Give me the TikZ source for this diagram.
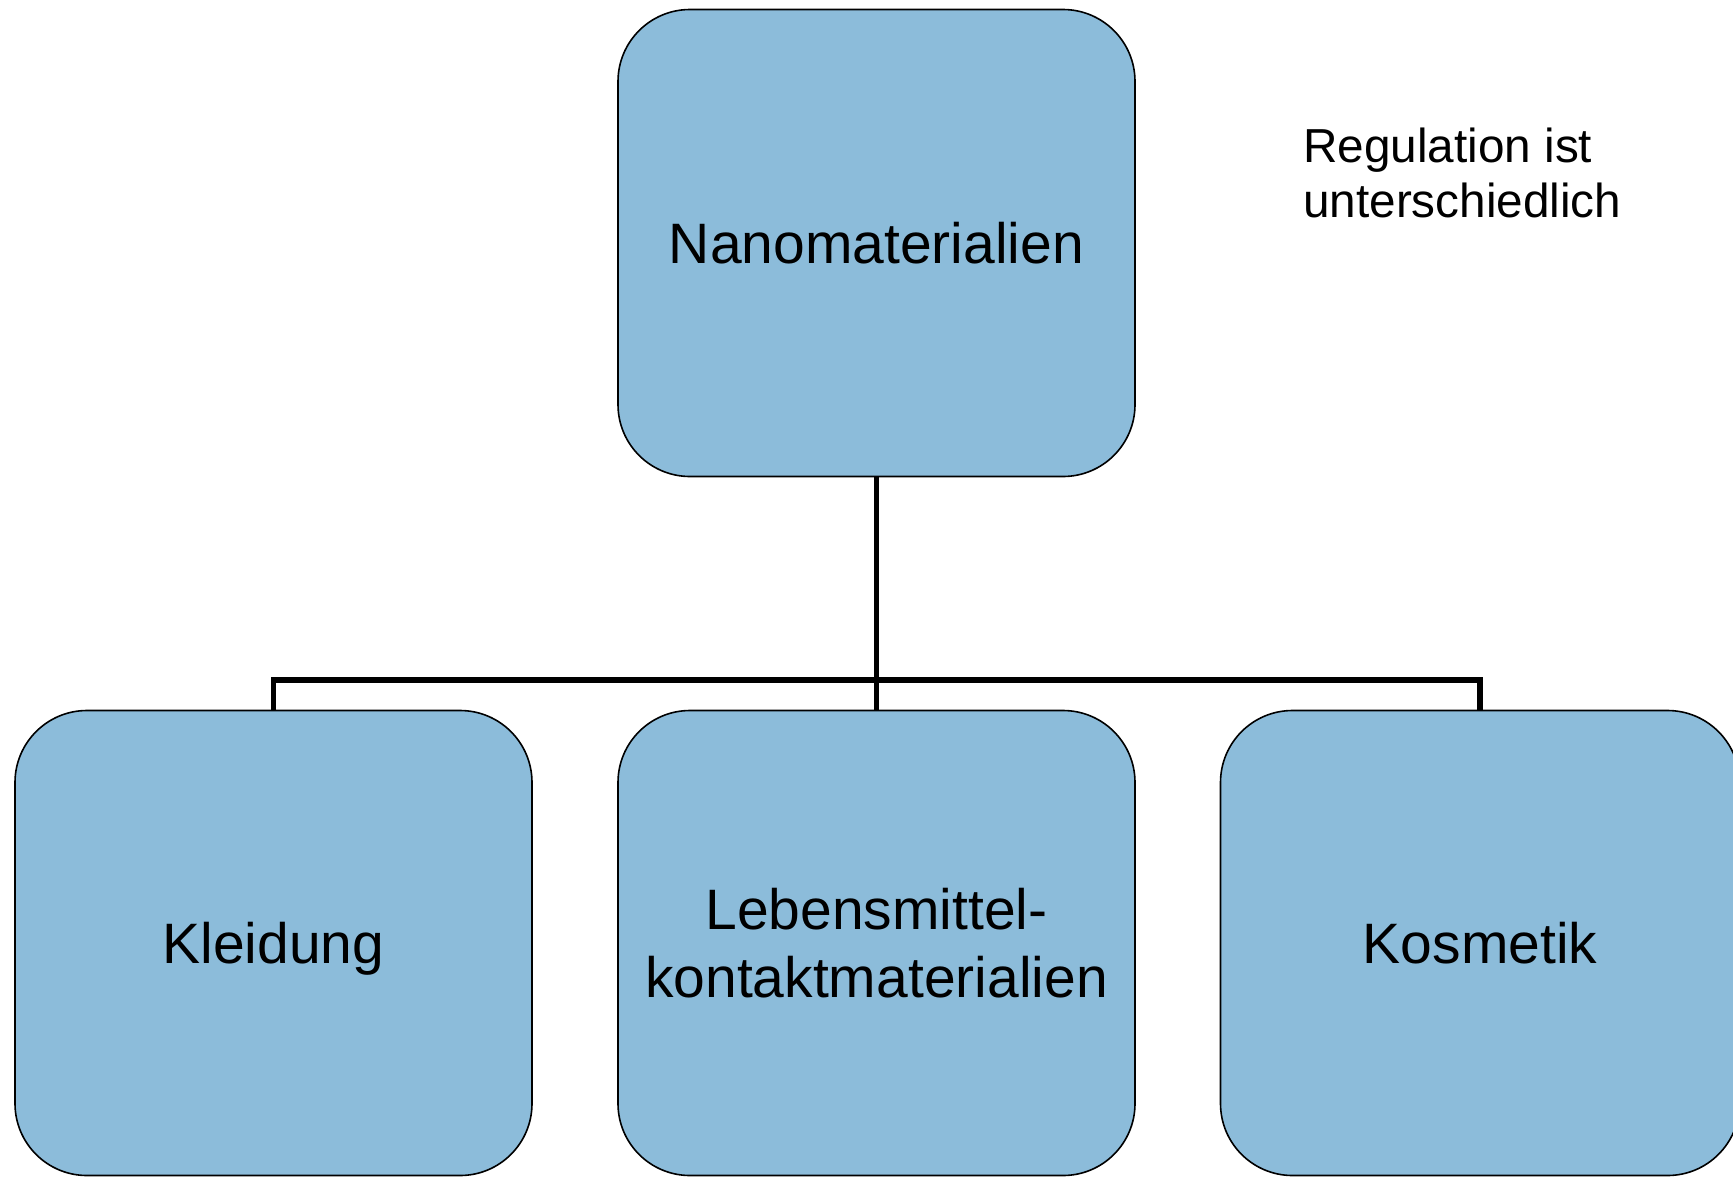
\documentclass[tikz,border=0pt]{standalone}
\usepackage{fontspec}
\setmainfont{Liberation Sans}
\definecolor{boxfill}{HTML}{8CBCDA}
\begin{document}
\begin{tikzpicture}[x=1pt,y=-1pt,
  catbox/.style={draw=black,line width=1.6pt,fill=boxfill,rounded corners=72pt,
    minimum width=517pt,minimum height=467pt,inner sep=0pt,align=center,
    font=\fontsize{57}{68}\selectfont},
  fixedtext/.style={text height=52pt,text depth=12pt},
  conn/.style={line width=5.5pt,draw=black}]
\useasboundingbox (0,0) rectangle (1733,1176);
\node[catbox,fixedtext] (top) at (876.5,243) {Nanomaterialien};
\node[catbox,fixedtext,minimum height=465pt] (left) at (273.5,943) {Kleidung};
\node[catbox,minimum height=465pt] (mid) at (876.5,943) {Lebensmittel-\\kontaktmaterialien};
\node[catbox,fixedtext,minimum height=465pt,minimum width=519pt] (right) at (1480,943) {Kosmetik};
\coordinate (bus) at (876.5,680);
\draw[conn] (top.south) -- (mid.north);
\draw[conn] (left.north) |- (bus) -| (right.north);
\node[anchor=base west,align=left,inner sep=0pt,font=\fontsize{47.7}{55}\selectfont] (reg) at (1303,217) {Regulation ist\\unterschiedlich};
\end{tikzpicture}
\end{document}
